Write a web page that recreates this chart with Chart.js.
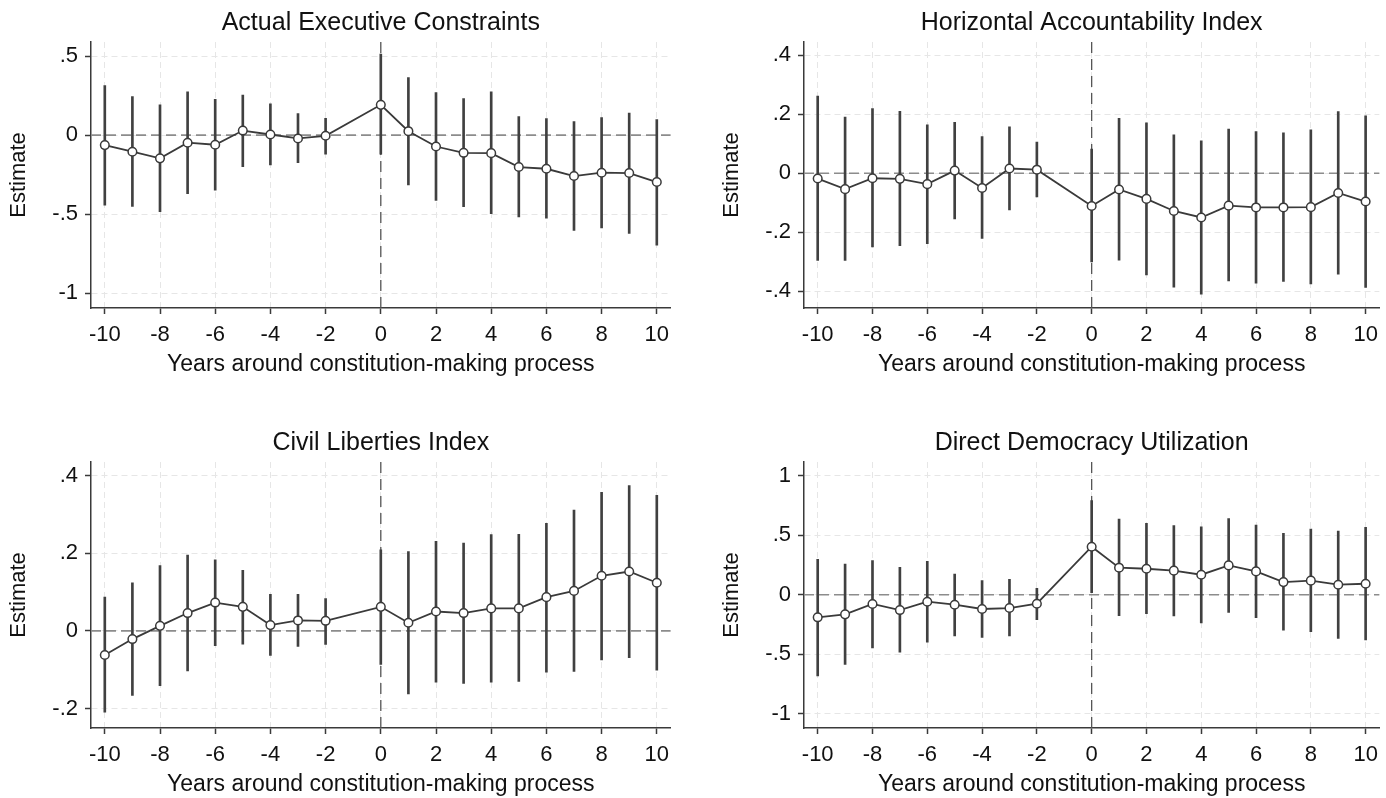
<!DOCTYPE html>
<html>
<head>
<meta charset="utf-8">
<script src="https://cdn.jsdelivr.net/npm/chart.js@4.4.1/dist/chart.umd.min.js"></script>
<style>
  html, body { margin: 0; padding: 0; background: #fff; }
  #wrap { position: relative; width: 1386px; height: 798px; overflow: hidden; }
  canvas { position: absolute; }
</style>
</head>
<body>
<div id="wrap">
  <canvas id="c1" width="693" height="378" style="left:0;top:0"></canvas>
  <canvas id="c2" width="673" height="378" style="left:713px;top:0"></canvas>
  <canvas id="c3" width="693" height="378" style="left:0;top:420px"></canvas>
  <canvas id="c4" width="673" height="378" style="left:713px;top:420px"></canvas>
</div>
<script>
// years relative to the process (-1 is the omitted reference year)
const years = [-10, -9, -8, -7, -6, -5, -4, -3, -2, 0, 1, 2, 3, 4, 5, 6, 7, 8, 9, 10];
const xTicks = [-10, -8, -6, -4, -2, 0, 2, 4, 6, 8, 10];

// Actual Executive Constraints
const execEst = [-0.063, -0.105, -0.147, -0.048, -0.061, 0.029, 0.004, -0.021, -0.004, 0.192, 0.025, -0.072, -0.112, -0.114, -0.202, -0.213, -0.259, -0.238, -0.240, -0.297];
const execHi  = [0.314, 0.244, 0.192, 0.274, 0.227, 0.253, 0.198, 0.137, 0.107, 0.514, 0.364, 0.270, 0.232, 0.274, 0.118, 0.105, 0.086, 0.112, 0.139, 0.099];
const execLo  = [-0.444, -0.452, -0.484, -0.371, -0.349, -0.200, -0.189, -0.175, -0.120, -0.120, -0.316, -0.413, -0.453, -0.497, -0.518, -0.526, -0.604, -0.587, -0.623, -0.697];
const execTicks  = [0.5, 0, -0.5, -1];
const execLabels = ['.5', '0', '-.5', '-1'];

// Horizontal Accountability Index
const horEst = [-0.018, -0.054, -0.017, -0.019, -0.037, 0.009, -0.050, 0.016, 0.012, -0.111, -0.055, -0.087, -0.128, -0.150, -0.110, -0.116, -0.116, -0.115, -0.067, -0.096];
const horHi  = [0.262, 0.190, 0.219, 0.210, 0.164, 0.173, 0.124, 0.157, 0.106, 0.082, 0.186, 0.171, 0.130, 0.110, 0.150, 0.141, 0.137, 0.147, 0.209, 0.195];
const horLo  = [-0.296, -0.296, -0.250, -0.246, -0.239, -0.155, -0.221, -0.124, -0.080, -0.301, -0.295, -0.345, -0.386, -0.410, -0.365, -0.373, -0.367, -0.375, -0.342, -0.387];
const horTicks  = [0.4, 0.2, 0, -0.2, -0.4];
const horLabels = ['.4', '.2', '0', '-.2', '-.4'];

// Civil Liberties Index
const civEst = [-0.062, -0.021, 0.013, 0.046, 0.073, 0.062, 0.015, 0.027, 0.026, 0.062, 0.021, 0.050, 0.046, 0.058, 0.058, 0.087, 0.103, 0.142, 0.153, 0.124];
const civHi  = [0.087, 0.124, 0.168, 0.195, 0.183, 0.156, 0.094, 0.094, 0.083, 0.209, 0.204, 0.231, 0.226, 0.248, 0.249, 0.277, 0.311, 0.357, 0.374, 0.349];
const civLo  = [-0.209, -0.166, -0.141, -0.103, -0.038, -0.034, -0.063, -0.040, -0.035, -0.086, -0.162, -0.132, -0.135, -0.132, -0.130, -0.106, -0.104, -0.075, -0.069, -0.101];
const civTicks  = [0.4, 0.2, 0, -0.2];
const civLabels = ['.4', '.2', '0', '-.2'];

// Direct Democracy Utilization
const ddEst = [-0.190, -0.165, -0.078, -0.129, -0.059, -0.084, -0.120, -0.112, -0.076, 0.403, 0.227, 0.218, 0.202, 0.168, 0.246, 0.196, 0.106, 0.118, 0.084, 0.092];
const ddHi  = [0.297, 0.258, 0.286, 0.230, 0.280, 0.174, 0.118, 0.129, 0.053, 0.790, 0.636, 0.599, 0.580, 0.571, 0.639, 0.585, 0.515, 0.552, 0.535, 0.566];
const ddLo  = [-0.683, -0.585, -0.448, -0.482, -0.398, -0.347, -0.358, -0.347, -0.210, 0.017, -0.176, -0.160, -0.179, -0.238, -0.148, -0.193, -0.297, -0.311, -0.367, -0.380];
const ddTicks  = [1, 0.5, 0, -0.5, -1];
const ddLabels = ['1', '.5', '0', '-.5', '-1'];

const FONT = '"Liberation Sans", Arial, sans-serif';
const INK = '#3a3a3a';

// title centred over the plot region
const panelTitle = {
  id: 'panelTitle',
  afterDraw(chart, args, opts) {
    const { ctx, chartArea } = chart;
    ctx.save();
    ctx.font = '25px ' + FONT;
    ctx.fillStyle = '#111';
    ctx.textAlign = 'center';
    ctx.textBaseline = 'middle';
    ctx.fillText(opts.text, (chartArea.left + chartArea.right) / 2, 23);
    ctx.restore();
  }
};

// dashed reference lines at y = 0 and x = 0
const refLines = {
  id: 'refLines',
  beforeDatasetsDraw(chart) {
    const { ctx, chartArea: a, scales: { x, y } } = chart;
    ctx.save();
    ctx.lineWidth = 1.6;
    ctx.strokeStyle = '#8c8c8c';
    ctx.setLineDash([10, 5]);
    const y0 = y.getPixelForValue(0);
    ctx.beginPath(); ctx.moveTo(a.left, y0); ctx.lineTo(a.right, y0); ctx.stroke();
    ctx.lineWidth = 1.3;
    ctx.strokeStyle = '#555';
    ctx.setLineDash([11, 6]);
    const x0 = x.getPixelForValue(0);
    ctx.beginPath(); ctx.moveTo(x0, a.top); ctx.lineTo(x0, a.bottom); ctx.stroke();
    ctx.restore();
  }
};

function makePanel(id, title, est, lo, hi, yTicks, yLabels, yMin, yMax) {
  const canvas = document.getElementById(id);
  const W = canvas.width, H = canvas.height;
  const plotTop = 42, plotBottom = 308, plotLeft = 91;
  const plotRight = plotLeft + 21 * 27.6;

  new Chart(canvas.getContext('2d'), {
    type: 'line',
    data: {
      datasets: [
        {
          type: 'line',
          data: years.map((yr, i) => ({ x: yr, y: est[i] })),
          borderColor: INK,
          borderWidth: 1.8,
          pointRadius: 4.3,
          pointBorderWidth: 1.5,
          pointBackgroundColor: '#fff',
          pointBorderColor: INK,
          tension: 0,
          order: 0
        },
        {
          type: 'bar',
          data: years.map((yr, i) => ({ x: yr, y: [lo[i], hi[i]] })),
          backgroundColor: '#404040',
          borderWidth: 0,
          barThickness: 2,
          order: 1
        }
      ]
    },
    options: {
      responsive: false,
      animation: false,
      events: [],
      layout: { padding: { top: plotTop, left: 0, right: W - plotRight, bottom: 0 } },
      plugins: {
        legend: { display: false },
        tooltip: { enabled: false },
        panelTitle: { text: title }
      },
      scales: {
        x: {
          type: 'linear',
          min: -10.5,
          max: 10.5,
          offset: false,
          afterBuildTicks: s => { s.ticks = xTicks.map(v => ({ value: v })); },
          afterFit: s => { s.height = H - plotBottom; },
          ticks: { color: '#111', font: { family: FONT, size: 22 }, padding: 8, maxRotation: 0, autoSkip: false },
          grid: { offset: false, color: '#e6e6e6', lineWidth: 1, tickColor: INK, tickLength: 6, tickWidth: 1.5 },
          border: { display: true, color: INK, width: 1.5, dash: [6, 4] },
          title: { display: true, text: 'Years around constitution-making process', color: '#111',
                   font: { family: FONT, size: 23 }, padding: { top: 0, bottom: 0 } }
        },
        y: {
          type: 'linear',
          min: yMin,
          max: yMax,
          afterBuildTicks: s => { s.ticks = yTicks.map(v => ({ value: v })); },
          afterFit: s => { s.width = plotLeft; },
          ticks: { color: '#111', font: { family: FONT, size: 22 }, padding: 7,
                   callback: (v, i) => yLabels[i] },
          grid: { color: '#e6e6e6', lineWidth: 1, tickColor: INK, tickLength: 6, tickWidth: 1.5 },
          border: { display: true, color: INK, width: 1.5, dash: [6, 4] },
          title: { display: true, text: 'Estimate', color: '#111',
                   font: { family: FONT, size: 22 }, padding: { top: 6, bottom: 0 } }
        }
      }
    },
    plugins: [panelTitle, refLines]
  });
}

makePanel('c1', 'Actual Executive Constraints', execEst, execLo, execHi, execTicks, execLabels, -1.095, 0.59);
makePanel('c2', 'Horizontal Accountability Index', horEst, horLo, horHi, horTicks, horLabels, -0.457, 0.445);
makePanel('c3', 'Civil Liberties Index', civEst, civLo, civHi, civTicks, civLabels, -0.25, 0.435);
makePanel('c4', 'Direct Democracy Utilization', ddEst, ddLo, ddHi, ddTicks, ddLabels, -1.12, 1.115);
</script>
</body>
</html>
